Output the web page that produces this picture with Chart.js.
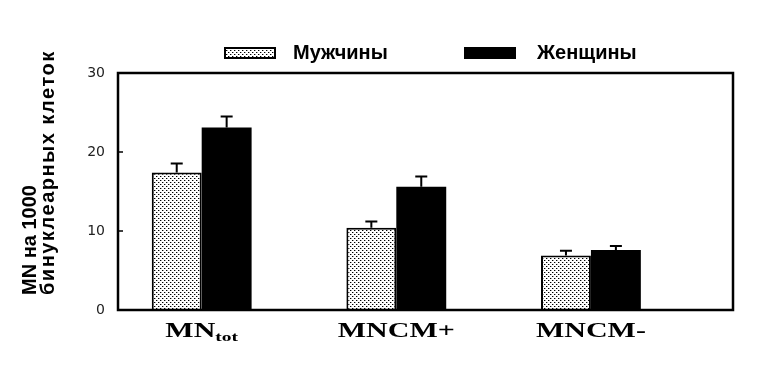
<!DOCTYPE html>
<html>
<head>
<meta charset="utf-8">
<script src="https://cdn.jsdelivr.net/npm/chart.js@4"></script>
<style>
    html, body { margin: 0; padding: 0; background: #fff; }
</style>
</head>
<body>
<canvas id="chart" width="773" height="368"></canvas>
<script>
// ---- data ----
const categories = ['MN', 'MNCM+', 'MNCM-'];
const categorySubscripts = ['tot', '', ''];
const seriesNames = ['Мужчины', 'Женщины'];
const menValues = [17.4, 10.4, 6.9];
const womenValues = [23.1, 15.6, 7.6];
const menErrors = [1.15, 0.8, 0.6];
const womenErrors = [1.4, 1.3, 0.5];
const yTicks = [0, 10, 20, 30];
const yTitle = ['MN на 1000', 'бинуклеарных клеток'];

const canvas = document.getElementById('chart');
const ctx = canvas.getContext('2d');

/* stipple fill for the men's bars */
const makeStipple = () => {
    const tile = document.createElement('canvas');
    tile.width = 4;
    tile.height = 4;
    const g = tile.getContext('2d');
    g.fillStyle = '#fff';
    g.fillRect(0, 0, 4, 4);
    g.fillStyle = '#000';
    g.fillRect(0, 0, 1, 1);
    g.fillRect(2, 2, 1, 1);
    g.fillStyle = 'rgba(0,0,0,0.35)';
    g.fillRect(1, 0, 1, 1);
    g.fillRect(3, 2, 1, 1);
    return ctx.createPattern(tile, 'repeat');
};
const stipple = makeStipple();

/* error bars, frame, legend, labels */
const decorations = {
    id: 'decorations',
    afterDatasetsDraw(chart) {
        const c = chart.ctx;
        const yScale = chart.scales.y;
        const xScale = chart.scales.x;
        const area = chart.chartArea;

        // error bars (upper whisker only)
        chart.data.datasets.forEach((ds, di) => {
            const meta = chart.getDatasetMeta(di);
            meta.data.forEach((bar, i) => {
                const v = ds.data[i].y;
                const top = yScale.getPixelForValue(v + ds.errors[i]);
                c.save();
                c.strokeStyle = '#000';
                c.lineWidth = 2;
                c.beginPath();
                c.moveTo(bar.x, bar.y);
                c.lineTo(bar.x, top);
                c.moveTo(bar.x - 6, top);
                c.lineTo(bar.x + 6, top);
                c.stroke();
                c.restore();
            });
        });

        // frame
        c.save();
        c.strokeStyle = '#000';
        c.lineWidth = 2.5;
        c.strokeRect(area.left, area.top, area.right - area.left, area.bottom - area.top);
        // small inward ticks
        c.lineWidth = 1.5;
        yTicks.forEach((t) => {
            const y = yScale.getPixelForValue(t);
            c.beginPath();
            c.moveTo(area.left, y);
            c.lineTo(area.left + 5, y);
            c.stroke();
        });
        c.restore();

        // category labels
        categories.forEach((label, i) => {
            const cx = xScale.getPixelForValue(i);
            const sub = categorySubscripts[i];
            c.save();
            c.translate(cx, 337);
            c.scale(1.5, 1);
            c.fillStyle = '#000';
            c.textBaseline = 'alphabetic';
            c.textAlign = 'left';
            c.font = 'bold 20px "Liberation Serif", serif';
            const mainW = c.measureText(label).width;
            c.font = 'bold 13px "Liberation Serif", serif';
            const subW = sub ? c.measureText(sub).width : 0;
            const start = -(mainW + subW) / 2;
            c.font = 'bold 20px "Liberation Serif", serif';
            c.fillText(label, start, 0);
            if (sub) {
                c.font = 'bold 13px "Liberation Serif", serif';
                c.fillText(sub, start + mainW, 4);
            }
            c.restore();
        });

        // legend
        const legendPos = [
            { box: 225, text: 293 },
            { box: 465, text: 537 },
        ];
        chart.data.datasets.forEach((ds, di) => {
            const p = legendPos[di];
            c.save();
            c.fillStyle = ds.backgroundColor;
            c.fillRect(p.box, 48, 50, 10);
            c.strokeStyle = '#000';
            c.lineWidth = 2;
            c.strokeRect(p.box, 48, 50, 10);
            c.fillStyle = '#000';
            c.font = 'bold 20px "Liberation Sans", Arial, sans-serif';
            c.textBaseline = 'alphabetic';
            c.textAlign = 'left';
            c.fillText(ds.label, p.text, 59);
            c.restore();
        });

        // y-axis title, two lines, bottom-aligned
        c.save();
        c.fillStyle = '#000';
        c.font = 'bold 20px "Liberation Sans", Arial, sans-serif';
        c.textAlign = 'left';
        c.textBaseline = 'alphabetic';
        c.translate(36, 295);
        c.rotate(-Math.PI / 2);
        c.fillText(yTitle[0], 0, 0);
        c.restore();

        c.save();
        c.fillStyle = '#000';
        c.font = 'bold 20px "Liberation Sans", Arial, sans-serif';
        c.letterSpacing = '1.5px';
        c.textAlign = 'left';
        c.textBaseline = 'alphabetic';
        c.translate(54, 295);
        c.rotate(-Math.PI / 2);
        c.fillText(yTitle[1], 0, 0);
        c.restore();
    },
};

new Chart(ctx, {
    type: 'bar',
    data: {
        datasets: [
            {
                label: seriesNames[0],
                data: menValues.map((v, i) => ({ x: i, y: v })),
                errors: menErrors,
                backgroundColor: stipple,
                borderColor: '#000',
                borderWidth: 2,
            },
            {
                label: seriesNames[1],
                data: womenValues.map((v, i) => ({ x: i, y: v })),
                errors: womenErrors,
                backgroundColor: '#000',
                borderColor: '#000',
                borderWidth: 0,
            },
        ],
    },
    options: {
        responsive: false,
        animation: false,
        devicePixelRatio: 1,
        layout: { padding: { top: 73, right: 40, left: 0, bottom: 0 } },
        datasets: {
            bar: { categoryPercentage: 0.513, barPercentage: 1, grouped: true },
        },
        plugins: {
            legend: { display: false },
            tooltip: { enabled: false },
        },
        scales: {
            x: {
                type: 'linear',
                offset: false,
                min: -0.43,
                max: 2.73,
                grid: { display: false, drawTicks: false },
                border: { display: false },
                ticks: { display: false, stepSize: 1, includeBounds: false },
                afterFit: (s) => { s.height = 58; },
            },
            y: {
                min: 0,
                max: 30,
                grid: { display: false, drawTicks: false },
                border: { display: false },
                ticks: {
                    stepSize: 10,
                    padding: 13,
                    color: '#222',
                    font: { family: 'DejaVu Sans', size: 14 },
                },
                afterFit: (s) => { s.width = 118; },
            },
        },
    },
    plugins: [decorations],
});
</script>
</body>
</html>
